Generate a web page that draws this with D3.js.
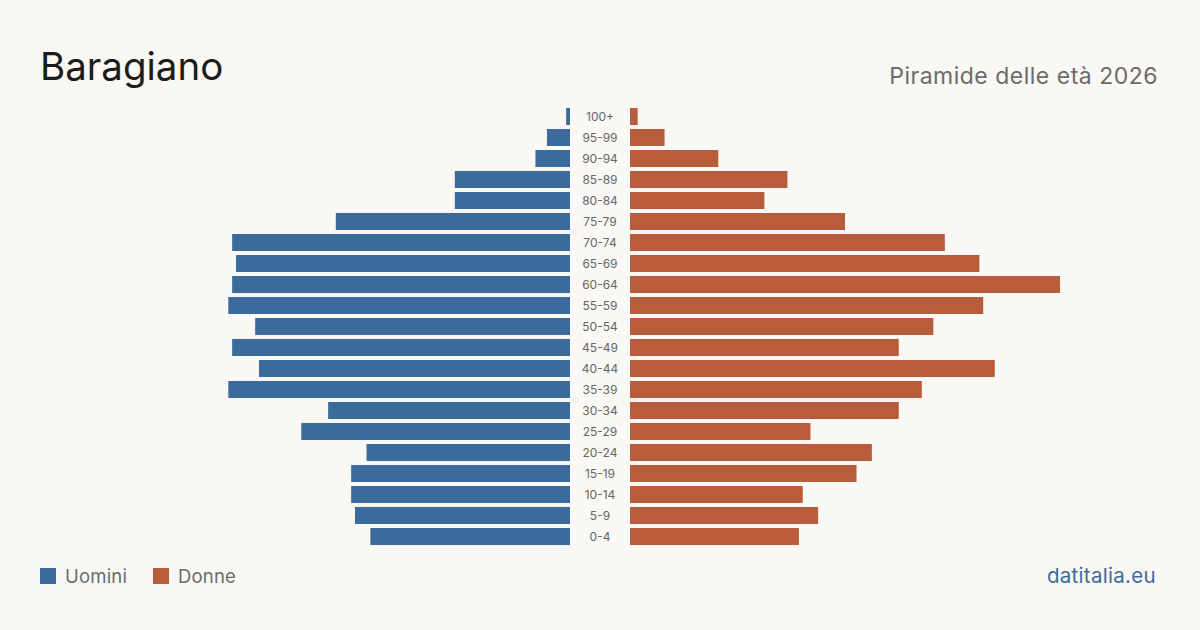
<!DOCTYPE html>
<html>
<head>
<meta charset="utf-8">
<script src="https://cdn.jsdelivr.net/npm/d3@7"></script>
<style>
  html, body { margin: 0; padding: 0; background: #f9f8f4; }
  svg { display: block; font-family: Inter, "Noto Sans", sans-serif; }
</style>
</head>
<body>
<div id="chart"></div>
<script>
// age classes, oldest first (top to bottom)
const ageGroups = ['100+', '95-99', '90-94', '85-89', '80-84', '75-79', '70-74', '65-69', '60-64',
  '55-59', '50-54', '45-49', '40-44', '35-39', '30-34', '25-29', '20-24', '15-19', '10-14', '5-9', '0-4'];
const maschi = [1, 6, 9, 30, 30, 61, 88, 87, 88, 89, 82, 88, 81, 89, 63, 70, 53, 57, 57, 56, 52];
const femmine = [2, 9, 23, 41, 35, 56, 82, 91, 112, 92, 79, 70, 95, 76, 70, 47, 63, 59, 45, 49, 44];
const legendLabels = ['Uomini', 'Donne'];

const width = 1200;
const height = 630;
const center = 600;
const gap = 30;
const colMale = '#3b6b9b';
const colFemale = '#b95c3c';

const svg = d3.select('#chart')
  .append('svg')
  .attr('width', width)
  .attr('height', height);

svg.append('rect')
  .attr('width', width)
  .attr('height', height)
  .attr('fill', '#f9f8f4');

const maxVal = d3.max(maschi.concat(femmine));

const x = d3.scaleLinear()
  .domain([0, maxVal])
  .range([0, 430]);

const y = d3.scaleBand()
  .domain(ageGroups)
  .range([106, 547])
  .paddingInner(0.19)
  .paddingOuter(0.095);

// male bars grow to the left
svg.append('g').selectAll('rect')
  .data(ageGroups)
  .enter().append('rect')
  .attr('x', (d, i) => center - gap - x(maschi[i]))
  .attr('y', d => y(d))
  .attr('width', (d, i) => x(maschi[i]))
  .attr('height', y.bandwidth())
  .attr('fill', colMale);

// female bars grow to the right
svg.append('g').selectAll('rect')
  .data(ageGroups)
  .enter().append('rect')
  .attr('x', center + gap)
  .attr('y', d => y(d))
  .attr('width', (d, i) => x(femmine[i]))
  .attr('height', y.bandwidth())
  .attr('fill', colFemale);

svg.append('g').selectAll('text')
  .data(ageGroups)
  .enter().append('text')
  .attr('x', center)
  .attr('y', d => y(d) + y.bandwidth() / 2)
  .attr('dy', '0.35em')
  .attr('text-anchor', 'middle')
  .attr('font-size', 12)
  .attr('fill', '#666')
  .text(d => d);

// titles
svg.append('text')
  .attr('x', 40)
  .attr('y', 80)
  .attr('font-size', 38.5)
  .attr('fill', '#1c1c1c')
  .text('Baragiano');

svg.append('text')
  .attr('x', 1158)
  .attr('y', 84)
  .attr('text-anchor', 'end')
  .attr('font-size', 23)
  .attr('letter-spacing', 0.5)
  .attr('fill', '#6b6b6b')
  .text('Piramide delle età 2026');

// legend
const legend = svg.append('g');
const legendX = [40, 153];
const legendCol = [colMale, colFemale];
legendLabels.forEach((lab, i) => {
  legend.append('rect')
    .attr('x', legendX[i])
    .attr('y', 568)
    .attr('width', 16)
    .attr('height', 16)
    .attr('fill', legendCol[i]);
  legend.append('text')
    .attr('x', legendX[i] + 25)
    .attr('y', 583)
    .attr('font-size', 18.5)
    .attr('letter-spacing', 0.2)
    .attr('fill', '#6b6b6b')
    .text(lab);
});

svg.append('text')
  .attr('x', 1156)
  .attr('y', 583)
  .attr('text-anchor', 'end')
  .attr('font-size', 20.5)
  .attr('letter-spacing', 0.3)
  .attr('fill', '#3b6b9b')
  .text('datitalia.eu');
</script>
</body>
</html>
